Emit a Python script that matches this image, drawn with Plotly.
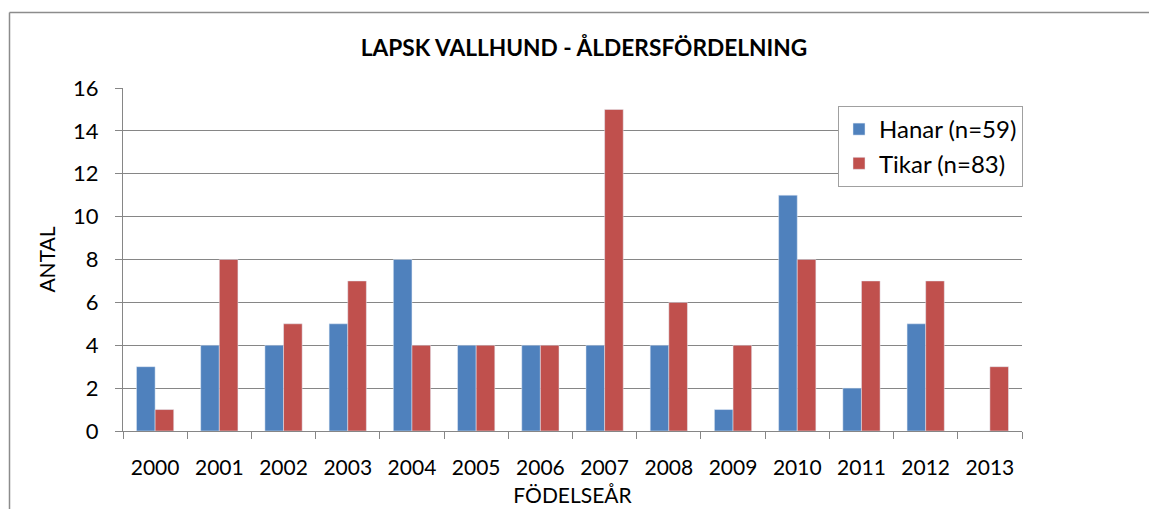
import plotly.graph_objects as go

years = ["2000", "2001", "2002", "2003", "2004", "2005", "2006", "2007",
         "2008", "2009", "2010", "2011", "2012", "2013"]
hanar = [3, 4, 4, 5, 8, 4, 4, 4, 4, 1, 11, 2, 5, 0]
tikar = [1, 8, 5, 7, 4, 4, 4, 15, 6, 4, 8, 7, 7, 3]
y_ticks = [0, 2, 4, 6, 8, 10, 12, 14, 16]

W, H = 1149, 509
L, R, T, B = 123, 1022, 88, 431
pw, ph = R - L, B - T

def px(x):
    return (x - L) / pw

def py(y):
    return (B - y) / ph

FONT = "Lato"
GRID = "#868686"
FRAME = dict(color="#8C8C8C", width=1.5)

fig = go.Figure()
fig.add_trace(go.Bar(x=years, y=hanar, name="Hanar (n=59)", marker_color="#4F81BD"))
fig.add_trace(go.Bar(x=years, y=tikar, name="Tikar (n=83)", marker_color="#C0504D"))

fig.update_layout(
    width=W, height=H,
    margin=dict(l=L, r=W - R, t=T, b=H - B, pad=0, autoexpand=False),
    paper_bgcolor="white", plot_bgcolor="white",
    barmode="group", bargap=0.42, bargroupgap=0,
    font=dict(family=FONT, size=21, color="black"),
    showlegend=True,
    legend=dict(x=px(838), y=py(106), xanchor="left", yanchor="top",
                bgcolor="white", bordercolor="#A0A0A0", borderwidth=1,
                font=dict(size=24), tracegroupgap=4, itemwidth=30),
    title=dict(text="<b>LAPSK VALLHUND - ÅLDERSFÖRDELNING</b>",
               x=px(584), xref="paper", xanchor="center",
               y=1 - 48 / H, yanchor="middle",
               font=dict(size=22.7, family=FONT)),
    shapes=[
        dict(type="line", xref="paper", yref="paper",
             x0=px(9.5), x1=px(1149), y0=py(12.5), y1=py(12.5),
             line=FRAME, layer="below"),
        dict(type="line", xref="paper", yref="paper",
             x0=px(9.5), x1=px(9.5), y0=py(12.5), y1=py(509),
             line=FRAME, layer="below"),
    ],
)

fig.update_yaxes(range=[0, 16], tickvals=y_ticks, showgrid=True,
                 gridcolor=GRID, gridwidth=1, zeroline=False,
                 showline=True, linecolor=GRID, linewidth=1,
                 ticks="outside", ticklen=7, tickcolor=GRID,
                 ticklabelstandoff=12, tickfont=dict(size=22),
                 automargin=False,
                 title=dict(text="ANTAL", font=dict(size=21), standoff=11))
fig.update_xaxes(showgrid=False, showline=True, linecolor=GRID, linewidth=1,
                 ticks="outside", ticklen=7, tickcolor=GRID,
                 tickson="boundaries", ticklabelstandoff=18,
                 tickfont=dict(size=21), automargin=False,
                 title=dict(text="FÖDELSEÅR", font=dict(size=21), standoff=10))

fig.write_html("out.html", config={"displayModeBar": False},
               post_script="document.body.style.margin='0';")
